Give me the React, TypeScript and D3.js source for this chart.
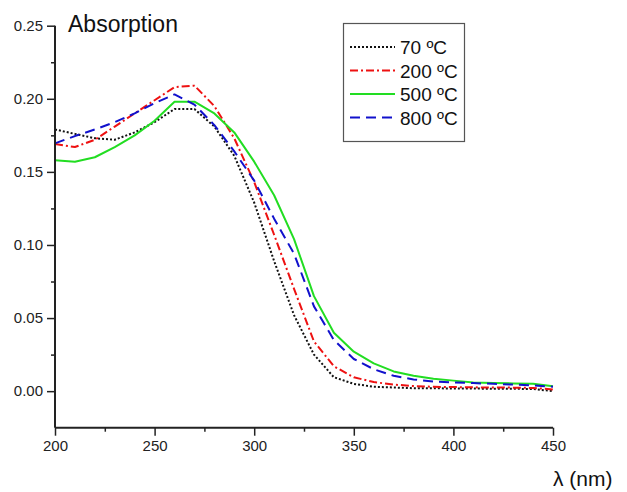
import React, { useEffect, useRef } from 'react';
import * as d3 from 'd3';

// wavelength (nm)
const wavelengths = [200, 210, 220, 230, 240, 250, 260, 270, 280, 290, 300, 310, 320, 330, 340, 350, 360, 370, 380, 390, 400, 410, 420, 430, 440, 450];

const abs70 = [0.179, 0.176, 0.173, 0.172, 0.177, 0.184, 0.193, 0.193, 0.181, 0.161, 0.129, 0.089, 0.052, 0.025, 0.0095, 0.005, 0.003, 0.0025, 0.002, 0.002, 0.0018, 0.0018, 0.0016, 0.0016, 0.0015, 0.0];
const abs200 = [0.169, 0.167, 0.172, 0.181, 0.19, 0.199, 0.208, 0.209, 0.195, 0.173, 0.143, 0.107, 0.07, 0.034, 0.017, 0.0095, 0.0062, 0.0045, 0.0035, 0.003, 0.0028, 0.0026, 0.0025, 0.0024, 0.0022, 0.0012];
const abs500 = [0.158, 0.157, 0.16, 0.167, 0.175, 0.185, 0.198, 0.198, 0.19, 0.177, 0.157, 0.134, 0.104, 0.065, 0.04, 0.027, 0.019, 0.0135, 0.0105, 0.0085, 0.0072, 0.006, 0.0056, 0.0053, 0.005, 0.0034];
const abs800 = [0.1695, 0.1745, 0.179, 0.184, 0.19, 0.197, 0.203, 0.196, 0.182, 0.164, 0.144, 0.118, 0.094, 0.058, 0.035, 0.022, 0.015, 0.0105, 0.008, 0.0065, 0.006, 0.0055, 0.005, 0.0045, 0.004, 0.003];

const seriesNames = ['70 ºC', '200 ºC', '500 ºC', '800 ºC'];
const seriesColors = ['#111111', '#ee1111', '#22dd22', '#1111cc'];
const seriesDash = ['2,2', '8,3,2,3', null, '10,6'];
const seriesValues = [abs70, abs200, abs500, abs800];

const xTicks = [200, 250, 300, 350, 400, 450];
const xMinor = [225, 275, 325, 375, 425];
const yTicks = [0, 0.05, 0.1, 0.15, 0.2, 0.25];
const yMinor = [0.025, 0.075, 0.125, 0.175, 0.225];

const Chart = () => {
  const svgRef = useRef(null);

  useEffect(() => {
    const width = 627;
    const height = 492;
    const font = '"Liberation Sans", Arial, sans-serif';

    const svg = d3.select(svgRef.current);
    svg.selectAll('*').remove();
    svg.attr('width', width).attr('height', height);

    const x = d3.scaleLinear().domain([200, 450]).range([55, 553]);
    const y = d3.scaleLinear().domain([-0.025, 0.25]).range([427.7, 25.7]);

    // curves
    seriesValues.forEach((vals, i) => {
      const line = d3.line<number>()
        .x((_, j) => x(wavelengths[j]))
        .y(d => y(d));
      const p = svg.append('path')
        .attr('d', line(vals))
        .attr('fill', 'none')
        .attr('stroke', seriesColors[i])
        .attr('stroke-width', 2)
        .attr('stroke-linejoin', 'round');
      if (seriesDash[i]) p.attr('stroke-dasharray', seriesDash[i]);
    });

    // y axis
    const yAxis = svg.append('g')
      .attr('transform', `translate(${x(200)},0)`)
      .call(d3.axisLeft(y).tickValues(yTicks).tickFormat(d3.format('.2f')).tickSize(8).tickPadding(4).tickSizeOuter(0));
    yAxis.select('.domain').remove();
    yAxis.selectAll('text').style('font-family', font).style('font-size', '15px').attr('fill', '#222');
    yAxis.selectAll('line').attr('stroke', '#222').attr('stroke-width', 1.5);

    svg.append('g')
      .attr('transform', `translate(${x(200)},0)`)
      .call(d3.axisLeft(y).tickValues(yMinor).tickFormat(() => '').tickSize(4).tickSizeOuter(0))
      .call(g => g.select('.domain').remove())
      .selectAll('line').attr('stroke', '#222').attr('stroke-width', 1.5);

    // x axis
    const xAxis = svg.append('g')
      .attr('transform', `translate(0,${y(-0.025)})`)
      .call(d3.axisBottom(x).tickValues(xTicks).tickSize(8).tickPadding(5).tickSizeOuter(0));
    xAxis.select('.domain').remove();
    xAxis.selectAll('text').style('font-family', font).style('font-size', '15px').attr('fill', '#222');
    xAxis.selectAll('line').attr('stroke', '#222').attr('stroke-width', 1.5);

    svg.append('g')
      .attr('transform', `translate(0,${y(-0.025)})`)
      .call(d3.axisBottom(x).tickValues(xMinor).tickFormat(() => '').tickSize(4).tickSizeOuter(0))
      .call(g => g.select('.domain').remove())
      .selectAll('line').attr('stroke', '#222').attr('stroke-width', 1.5);

    // axis lines
    svg.append('line')
      .attr('x1', x(200)).attr('x2', x(200))
      .attr('y1', y(0.25)).attr('y2', y(-0.025))
      .attr('stroke', '#222').attr('stroke-width', 2);
    svg.append('line')
      .attr('x1', x(200)).attr('x2', x(450))
      .attr('y1', y(-0.025)).attr('y2', y(-0.025))
      .attr('stroke', '#222').attr('stroke-width', 2);

    // titles
    svg.append('text')
      .attr('x', 68).attr('y', 32)
      .style('font-family', font).style('font-size', '23px')
      .attr('fill', '#111')
      .text('Absorption');

    svg.append('text')
      .attr('x', 553).attr('y', 486)
      .style('font-family', font).style('font-size', '21px')
      .attr('fill', '#111')
      .text('λ (nm)');

    // legend
    const lg = svg.append('g');
    lg.append('rect')
      .attr('x', 343.5).attr('y', 23.5)
      .attr('width', 121).attr('height', 118)
      .attr('fill', 'white')
      .attr('stroke', '#555').attr('stroke-width', 1.2);

    seriesNames.forEach((name, i) => {
      const cy = 47 + i * 23.5;
      const l = lg.append('line')
        .attr('x1', 350).attr('x2', 395)
        .attr('y1', cy).attr('y2', cy)
        .attr('stroke', seriesColors[i])
        .attr('stroke-width', 2);
      if (seriesDash[i]) l.attr('stroke-dasharray', seriesDash[i]);
      lg.append('text')
        .attr('x', 400).attr('y', cy + 7)
        .style('font-family', font).style('font-size', '19px')
        .attr('fill', '#111')
        .text(name);
    });
  }, []);

  return (
    <svg ref={svgRef} style={{ position: 'absolute', left: 0, top: 0, background: 'white' }}></svg>
  );
};

export default function App() {
  return <Chart />;
}
